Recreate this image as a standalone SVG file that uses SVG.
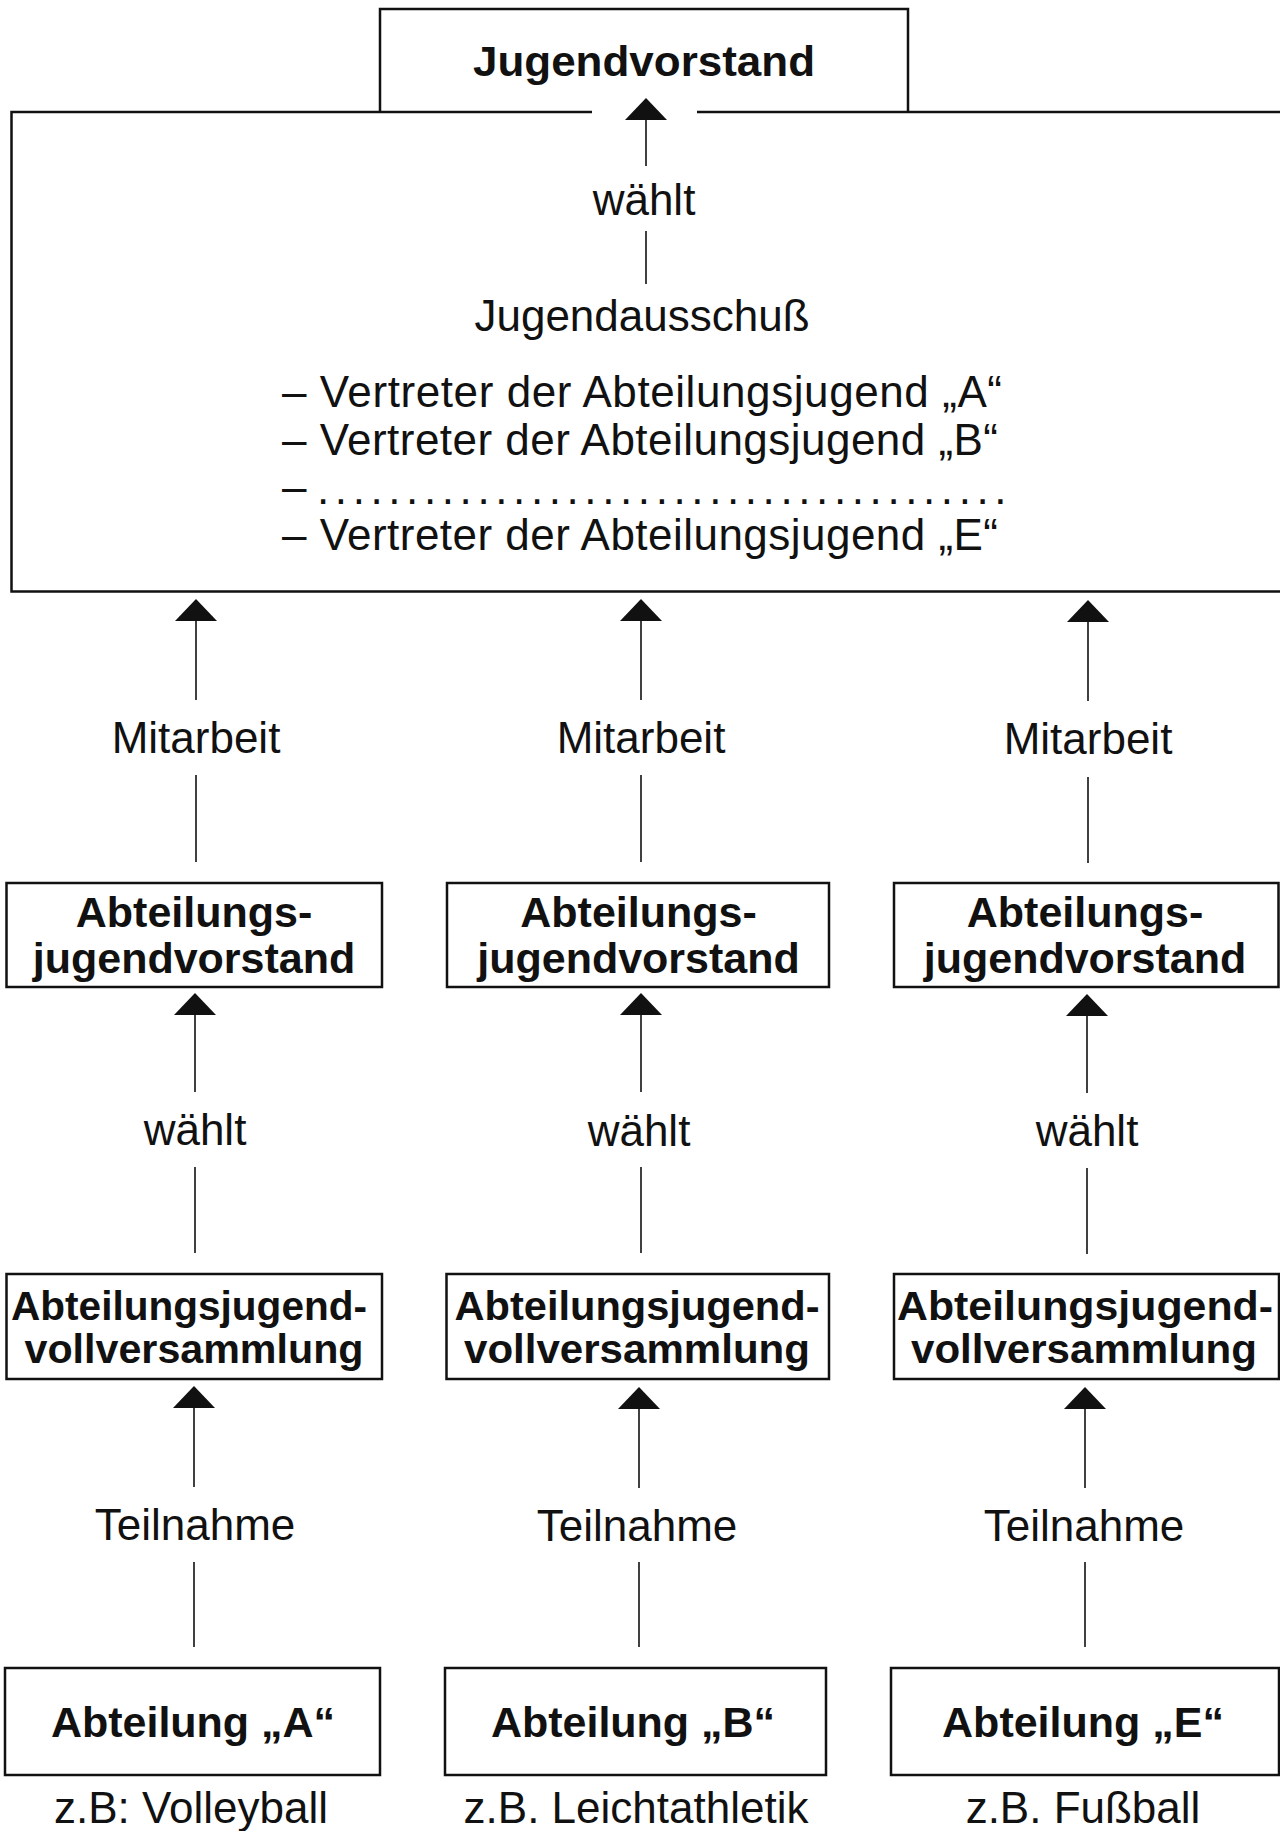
<svg xmlns="http://www.w3.org/2000/svg" width="1280" height="1831" viewBox="0 0 1280 1831">
<style>
.t{font-family:"Liberation Sans",Arial,Helvetica,sans-serif;fill:#111;text-anchor:middle}
.r{font-size:44px}
.b{font-size:43px;font-weight:bold}
.b3{font-size:40px;font-weight:bold}
.s{text-anchor:start}
.box{fill:#fff;stroke:#111;stroke-width:2.5}
.edge{fill:none;stroke:#111;stroke-width:2.5}
.ln{stroke:#111;stroke-width:1.6;fill:none}
.up{marker-end:url(#ah)}
</style>
<defs>
<marker id="ah" markerUnits="userSpaceOnUse" viewBox="0 -22 23 44" markerWidth="23" markerHeight="44" refX="0" refY="0" orient="auto">
<path d="M0,-21 L22,0 L0,21 Z" fill="#111"/>
</marker>
</defs>
<rect width="1280" height="1831" fill="#fff"/>

<g id="jugendvorstand">
<path class="edge" d="M380,112 V9 H908 V112"/>
<text class="t b" x="644" y="76" textLength="342" lengthAdjust="spacingAndGlyphs">Jugendvorstand</text>
</g>

<g id="jugendausschuss">
<path class="edge" d="M592,112 H11.5 V591.5 H1280 M697,112 H1280"/>
<text class="t r" x="642" y="331">Jugendausschuß</text>
<text class="t r s" x="282" y="407" textLength="720" lengthAdjust="spacing">– Vertreter der Abteilungsjugend „A“</text>
<text class="t r s" x="282" y="455" textLength="716" lengthAdjust="spacing">– Vertreter der Abteilungsjugend „B“</text>
<text class="t r s" x="282" y="502">–</text>
<text class="t r s" x="317" y="504" letter-spacing="5.6">.......................................</text>
<text class="t r s" x="282" y="550" textLength="716" lengthAdjust="spacing">– Vertreter der Abteilungsjugend „E“</text>
</g>

<g id="ajv-a">
<rect class="box" x="6.5" y="883" width="375.5" height="104"/>
<text class="t b" x="194" y="927">Abteilungs-</text>
<text class="t b" x="194" y="973">jugendvorstand</text>
</g>
<g id="ajv-b">
<rect class="box" x="447" y="883" width="382" height="104"/>
<text class="t b" x="638.5" y="927">Abteilungs-</text>
<text class="t b" x="638.5" y="973">jugendvorstand</text>
</g>
<g id="ajv-e">
<rect class="box" x="894" y="883" width="384.5" height="104"/>
<text class="t b" x="1085" y="927">Abteilungs-</text>
<text class="t b" x="1085" y="973">jugendvorstand</text>
</g>

<g id="ajvv-a">
<rect class="box" x="6.5" y="1274" width="375.5" height="105"/>
<text class="t b3" x="189" y="1320" textLength="356" lengthAdjust="spacingAndGlyphs">Abteilungsjugend-</text>
<text class="t b3" x="194" y="1363" textLength="339" lengthAdjust="spacingAndGlyphs">vollversammlung</text>
</g>
<g id="ajvv-b">
<rect class="box" x="446.5" y="1274" width="382.5" height="105"/>
<text class="t b3" x="637" y="1320" textLength="365" lengthAdjust="spacingAndGlyphs">Abteilungsjugend-</text>
<text class="t b3" x="637" y="1363" textLength="346" lengthAdjust="spacingAndGlyphs">vollversammlung</text>
</g>
<g id="ajvv-e">
<rect class="box" x="894" y="1274" width="385" height="105"/>
<text class="t b3" x="1085" y="1320" textLength="376" lengthAdjust="spacingAndGlyphs">Abteilungsjugend-</text>
<text class="t b3" x="1084" y="1363" textLength="346" lengthAdjust="spacingAndGlyphs">vollversammlung</text>
</g>

<g id="abt-a">
<rect class="box" x="5" y="1668" width="375" height="107"/>
<text class="t b" x="193" y="1737">Abteilung „A“</text>
<text class="t r" x="191" y="1823">z.B: Volleyball</text>
</g>
<g id="abt-b">
<rect class="box" x="445" y="1668" width="381" height="107"/>
<text class="t b" x="633" y="1737">Abteilung „B“</text>
<text class="t r" x="636" y="1823">z.B. Leichtathletik</text>
</g>
<g id="abt-e">
<rect class="box" x="891" y="1668" width="388" height="107"/>
<text class="t b" x="1083" y="1737">Abteilung „E“</text>
<text class="t r" x="1083" y="1823">z.B. Fußball</text>
</g>

<g id="connectors">
<line class="ln up" x1="646" y1="166" x2="646" y2="120"/>
<line class="ln" x1="646" y1="231" x2="646" y2="284"/>
<text class="t r" x="644" y="215">wählt</text>

<line class="ln up" x1="196" y1="700" x2="196" y2="621"/>
<line class="ln" x1="196" y1="775" x2="196" y2="862"/>
<text class="t r" x="196" y="753">Mitarbeit</text>
<line class="ln up" x1="641" y1="700" x2="641" y2="621"/>
<line class="ln" x1="641" y1="775" x2="641" y2="862"/>
<text class="t r" x="641" y="753">Mitarbeit</text>
<line class="ln up" x1="1088" y1="701" x2="1088" y2="622"/>
<line class="ln" x1="1088" y1="777" x2="1088" y2="863"/>
<text class="t r" x="1088" y="754">Mitarbeit</text>

<line class="ln up" x1="195" y1="1092" x2="195" y2="1015"/>
<line class="ln" x1="195" y1="1167" x2="195" y2="1253"/>
<text class="t r" x="195" y="1145">wählt</text>
<line class="ln up" x1="641" y1="1092" x2="641" y2="1015"/>
<line class="ln" x1="641" y1="1167" x2="641" y2="1253"/>
<text class="t r" x="639" y="1146">wählt</text>
<line class="ln up" x1="1087" y1="1093" x2="1087" y2="1016"/>
<line class="ln" x1="1087" y1="1168" x2="1087" y2="1254"/>
<text class="t r" x="1087" y="1146">wählt</text>

<line class="ln up" x1="194" y1="1487" x2="194" y2="1408"/>
<line class="ln" x1="194" y1="1562" x2="194" y2="1647"/>
<text class="t r" x="195" y="1540">Teilnahme</text>
<line class="ln up" x1="639" y1="1488" x2="639" y2="1409"/>
<line class="ln" x1="639" y1="1562" x2="639" y2="1647"/>
<text class="t r" x="637" y="1541">Teilnahme</text>
<line class="ln up" x1="1085" y1="1488" x2="1085" y2="1409"/>
<line class="ln" x1="1085" y1="1562" x2="1085" y2="1647"/>
<text class="t r" x="1084" y="1541">Teilnahme</text>
</g>
</svg>
